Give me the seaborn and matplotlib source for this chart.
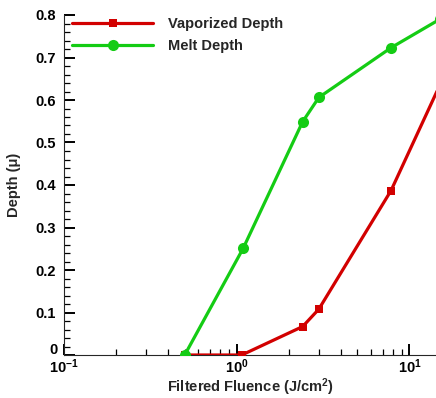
import numpy as np
import pandas as pd
import matplotlib
matplotlib.use("Agg")
import matplotlib.pyplot as plt
import seaborn as sns
from matplotlib.ticker import FixedLocator, FuncFormatter, MultipleLocator, LogLocator

sns.set_style("ticks")
plt.rcParams['font.family'] = ['Liberation Sans', 'DejaVu Sans']
plt.rcParams['font.weight'] = 'bold'
plt.rcParams['mathtext.fontset'] = 'custom'
plt.rcParams['mathtext.rm'] = 'Liberation Sans:bold'
plt.rcParams['mathtext.bf'] = 'Liberation Sans:bold'
plt.rcParams['mathtext.it'] = 'Liberation Sans:bold'

# Data
vap_fluence = [0.5, 1.07, 2.41, 2.99, 7.83, 15.0]
vap_depth = [0.0, 0.0, 0.067, 0.108, 0.387, 0.635]
melt_fluence = [0.5, 1.09, 2.41, 2.99, 7.83, 15.0]
melt_depth = [0.0, 0.251, 0.549, 0.606, 0.723, 0.79]

series_names = ["Vaporized Depth", "Melt Depth"]

fig = plt.figure(figsize=(4.36, 3.98), dpi=100)
ax = fig.add_axes([64/436, 43/398, 1 - 64/436, (355-15)/398])

red = "#d20000"
green = "#14cc14"

sns.lineplot(x=vap_fluence, y=vap_depth, ax=ax, color=red, marker='s',
             markersize=6, markeredgewidth=0, linewidth=2.3, label=series_names[0],
             zorder=3)
sns.lineplot(x=melt_fluence, y=melt_depth, ax=ax, color=green, marker='o',
             markersize=8, markeredgewidth=0, linewidth=2.3, label=series_names[1],
             zorder=4)

ax.set_xscale('log')
ax.set_xlim(0.1, 10**1.154)
ax.set_ylim(0, 0.8)

ax.xaxis.set_major_locator(FixedLocator([0.1, 1, 10]))
ax.xaxis.set_minor_locator(LogLocator(base=10, subs=np.arange(2, 10), numticks=20))
exps = {0.1: r'$\mathbf{10^{-1}}$', 1: r'$\mathbf{10^{0}}$', 10: r'$\mathbf{10^{1}}$'}
ax.xaxis.set_major_formatter(FuncFormatter(lambda v, p: exps.get(round(v, 3), '')))
ax.xaxis.set_minor_formatter(FuncFormatter(lambda v, p: ''))

ax.yaxis.set_major_locator(MultipleLocator(0.1))
ax.yaxis.set_minor_locator(MultipleLocator(0.02))
# "0" is placed separately (slightly raised) to avoid clashing with 10^-1
ax.yaxis.set_major_formatter(FuncFormatter(lambda v, p: '' if abs(v) < 1e-9 else f'{v:.1f}'))
ax.annotate('0', xy=(0, 0), xycoords='axes fraction', xytext=(-4.5, 3.5),
            textcoords='offset points', ha='right', va='center',
            fontsize=10.5, fontweight='bold', color='black')

sns.despine(ax=ax, top=True, right=True)

ax.tick_params(axis='both', which='major', direction='in', length=8, width=1.4,
               labelsize=10.5, colors='black')
ax.tick_params(axis='both', which='minor', direction='in', length=4, width=0.9,
               colors='black')
ax.tick_params(axis='x', which='major', pad=2)
ax.tick_params(axis='y', which='major', pad=6)

ax.set_xlabel(r'Filtered Fluence (J/cm$^2$)', fontsize=10.5, fontweight='bold', labelpad=0)
ax.set_ylabel('Depth (μ)', fontsize=10.5, fontweight='bold', labelpad=10)

leg = ax.legend(loc='upper left', frameon=False, fontsize=10.5, handlelength=5.6,
                handletextpad=1.0, labelspacing=0.5, borderaxespad=0.0,
                bbox_to_anchor=(0.005, 1.01))
for t in leg.get_texts():
    t.set_fontweight('bold')

ax.grid(False)
fig.savefig('out.png', dpi=100)
